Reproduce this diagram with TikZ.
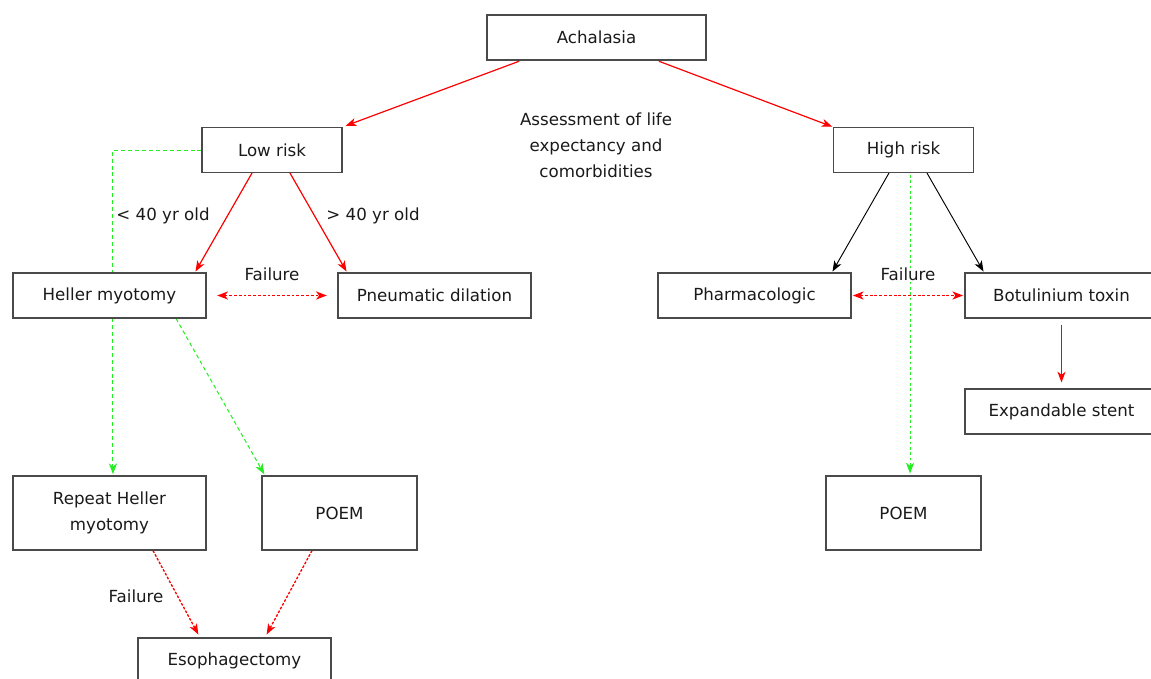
\documentclass[tikz,border=0pt]{standalone}
\usepackage{fontspec}
\setmainfont{DejaVu Sans}
\usetikzlibrary{arrows.meta,backgrounds}
\definecolor{boxgray}{HTML}{4A4A4A}
\definecolor{txt}{HTML}{1A1A1A}
\definecolor{myred}{HTML}{FF0000}
\definecolor{mygreen}{HTML}{22EE22}
\begin{document}
\begin{tikzpicture}[x=0.75pt,y=-0.75pt,
  box/.style={draw=boxgray, fill=white, line width=0.8pt, rectangle, inner sep=0pt,
    minimum width=144.75pt, minimum height=33.75pt, text=txt,
    font=\fontsize{12.5}{19.5}\selectfont, align=center},
  tall/.style={minimum height=55.5pt},
  lbl/.style={text=txt, font=\fontsize{12.5}{19.5}\selectfont, align=center, inner sep=0pt},
  tip/.style={-{Stealth[length=8pt,width=6pt,inset=2.2pt]}},
  dtip/.style={{Stealth[length=8pt,width=6pt,inset=2.2pt]}-{Stealth[length=8pt,width=6pt,inset=2.2pt]}},
  redsolid/.style={draw=myred, line width=0.9pt, tip},
  blacksolid/.style={draw=black, line width=0.7pt, tip},
  reddot/.style={draw=myred, line width=1pt, dash pattern=on 2pt off 1.2pt},
  redhdot/.style={draw=myred, line width=1.2pt, dash pattern=on 2.2pt off 1.4pt},
  greendash/.style={draw=mygreen, line width=0.75pt, dash pattern=on 3pt off 2.2pt, tip}
]
\useasboundingbox (0,0) rectangle (1151,678);

\node[box, minimum width=164.25pt] (ach) at (596.5,37.5) {Achalasia};
\node[box, minimum width=105pt] (lr) at (272,150) {Low risk};
\node[box, minimum width=105pt] (hr) at (903.5,150) {High risk};
\node[box] (hm) at (109.5,295.5) {Heller myotomy};
\node[box] (pd) at (434.5,295.5) {Pneumatic dilation};
\node[box] (ph) at (754.5,295.5) {Pharmacologic};
\node[box] (bt) at (1061.5,295.5) {Botulinium toxin};
\node[box] (es) at (1061.5,411.5) {Expandable stent};
\node[box, tall] (rh) at (109.5,513) {Repeat Heller\\myotomy};
\node[box, tall, minimum width=116.25pt] (p1) at (339.5,513) {POEM};
\node[box, tall, minimum width=116.25pt] (p2) at (903.5,513) {POEM};
\node[box] (eso) at (234.5,660.5) {Esophagectomy};

\node[lbl] (assess) at (596,145) {Assessment of life\\expectancy and\\comorbidities};
\node[lbl] (young) at (163,216) {< 40 yr old};
\node[lbl] (old) at (373,216) {> 40 yr old};
\node[lbl] (f1) at (272,274) {Failure};
\node[lbl] (f2) at (908,274) {Failure};
\node[lbl] (f3) at (136,596) {Failure};

\begin{scope}[on background layer]
% top
\draw[redsolid, shorten <=1.5pt, shorten >=2.5pt] ([xshift=-56.6pt]ach.south) -- (lr.north east);
\draw[redsolid, shorten <=1.5pt, shorten >=0.5pt] ([xshift=45.4pt]ach.south) -- (hr.north west);

% low risk
\draw[redsolid, shorten >=0.8pt] ([xshift=-15pt]lr.south) -- ([xshift=64.1pt]hm.north);
\draw[redsolid, shorten >=0.8pt] ([xshift=13.5pt]lr.south) -- ([xshift=-65.6pt]pd.north);
\draw[redhdot, dtip, shorten <=8pt, shorten >=8pt] (hm.east) -- (pd.west);
\draw[greendash] (lr.west) -| ([xshift=2.6pt, yshift=1pt]rh.north);
\draw[greendash, shorten >=1pt] ([xshift=49.9pt]hm.south) -- ([xshift=-55.9pt]p1.north);
\draw[reddot, tip, shorten >=2.5pt] ([xshift=32.6pt]rh.south) -- ([xshift=-25.9pt]eso.north);
\draw[reddot, tip, shorten >=2.5pt] ([xshift=-20.6pt]p1.south) -- ([xshift=22.9pt]eso.north);

% high risk
\draw[blacksolid, shorten >=0.8pt] ([xshift=-10.9pt]hr.south) -- ([xshift=58.1pt]ph.north);
\draw[blacksolid, shorten >=0.8pt] ([xshift=17.6pt]hr.south) -- ([xshift=-58.1pt]bt.north);
\draw[redhdot, dtip, shorten <=1pt, shorten >=1pt] (ph.east) -- (bt.west);
\draw[draw=mygreen, line width=0.75pt, dash pattern=on 2pt off 2pt, tip, shorten <=1.5pt, shorten >=1.5pt] ([xshift=4.9pt]hr.south) -- ([xshift=4.9pt]p2.north);
\draw[redsolid, shorten <=4.5pt, shorten >=4.5pt] (bt.south) -- (es.north);
\end{scope}
\end{tikzpicture}
\end{document}
